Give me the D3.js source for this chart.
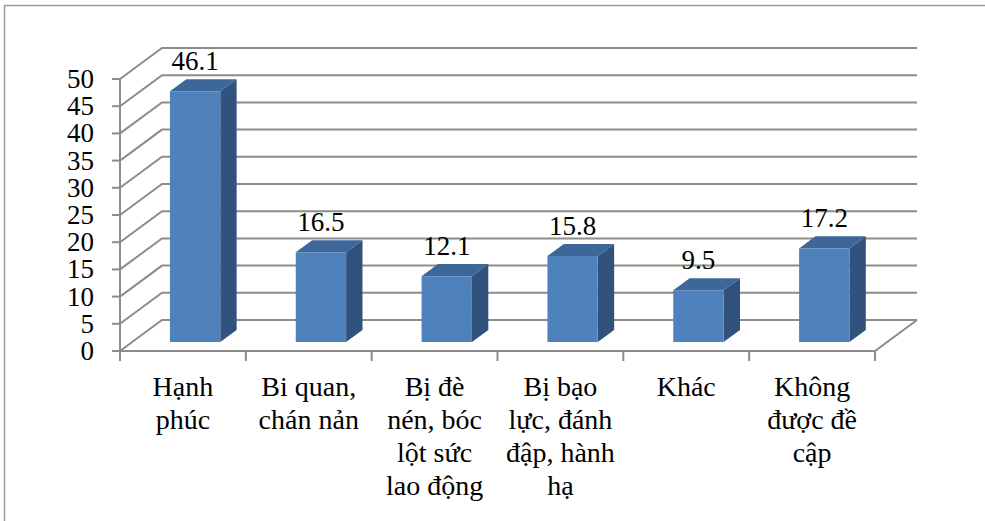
<!DOCTYPE html>
<html>
<head>
<meta charset="utf-8">
<script src="https://cdn.jsdelivr.net/npm/d3@7"></script>
<style>
  html, body { margin: 0; padding: 0; background: #fff; }
  svg { display: block; }
  svg text, svg tspan { font-family: "Liberation Serif", "Times New Roman", serif !important; }
</style>
</head>
<body>
<svg id="chart" width="985" height="521"></svg>
<script>
// Categories (each entry is the wrapped label lines) and the percentages
const categories = [
  ["Hạnh", "phúc"],
  ["Bi quan,", "chán nản"],
  ["Bị đè", "nén, bóc", "lột sức", "lao động"],
  ["Bị bạo", "lực, đánh", "đập, hành", "hạ"],
  ["Khác"],
  ["Không", "được đề", "cập"]
];
const values = [46.1, 16.5, 12.1, 15.8, 9.5, 17.2];
const yTicks = [0, 5, 10, 15, 20, 25, 30, 35, 40, 45, 50];

const svg = d3.select("#chart");
const fontStyle = size =>
  `font-family: "Liberation Serif", "Times New Roman", serif !important; font-size: ${size}px;`;

// Outer frame
svg.append("path")
  .attr("d", "M4.5,521 L4.5,5.5 L985,5.5")
  .attr("fill", "none").attr("stroke", "#9a9a9a").attr("stroke-width", 1.5);

// Front plane of the 3D plot and the depth vector toward the back wall
const left = 120, right = 875;
const depth = { x: 42, y: -31 };

const x = d3.scaleBand()
  .domain(d3.range(categories.length))
  .range([left, right])
  .paddingInner(0.6)
  .paddingOuter(0.3);

const y = d3.scaleLinear().domain([0, 50]).range([351, 79]);

// project a point (px on the front plane, value, depth fraction d)
const P = (px, v, d) => [px + d * depth.x, y(v) + d * depth.y];

const gridColor = "#8c8c8c";
const g = svg.append("g");

// Wall gridlines: diagonal on the side wall, horizontal on the back wall
yTicks.forEach(v => {
  const a = P(left, v, 0), b = P(left, v, 1), c = P(right, v, 1);
  g.append("path")
    .attr("d", `M${a[0]},${a[1]} L${b[0]},${b[1]} L${c[0]},${c[1]}`)
    .attr("fill", "none").attr("stroke", gridColor).attr("stroke-width", 2);
});

// Floor front and right edges
{
  const a = P(left, 0, 0), b = P(right, 0, 0), c = P(right, 0, 1);
  g.append("path")
    .attr("d", `M${a[0]},${a[1]} L${b[0]},${b[1]} L${c[0]},${c[1]}`)
    .attr("fill", "none").attr("stroke", gridColor).attr("stroke-width", 2);
}

// Value axis line, ticks and labels
g.append("line")
  .attr("x1", left).attr("x2", left)
  .attr("y1", y(0)).attr("y2", y(50))
  .attr("stroke", gridColor).attr("stroke-width", 2);

yTicks.forEach(v => {
  g.append("line")
    .attr("x1", left - 8).attr("x2", left)
    .attr("y1", y(v)).attr("y2", y(v))
    .attr("stroke", gridColor).attr("stroke-width", 2);
  svg.append("text")
    .attr("x", 94).attr("y", y(v) + 9)
    .attr("text-anchor", "end")
    .attr("font-family", "Liberation Serif")
    .attr("style", fontStyle(27))
    .text(v);
});

// Category boundary ticks
const bounds = d3.range(categories.length + 1).map(i => left + i * x.step());
bounds.forEach(bx => {
  g.append("line")
    .attr("x1", bx).attr("x2", bx)
    .attr("y1", y(0)).attr("y2", y(0) + 10)
    .attr("stroke", gridColor).attr("stroke-width", 2);
});

// 3D columns
const d0 = 0.29, d1 = 0.68;
const frontColor = "#4f81bd", sideColor = "#30527c", topColor = "#3d6699";

values.forEach((v, i) => {
  const xl = x(i), xr = x(i) + x.bandwidth();
  const fbl = P(xl, 0, d0), fbr = P(xr, 0, d0), ftl = P(xl, v, d0), ftr = P(xr, v, d0);
  const bbr = P(xr, 0, d1), btl = P(xl, v, d1), btr = P(xr, v, d1);
  const bar = svg.append("g");
  // right side
  bar.append("path")
    .attr("d", `M${fbr} L${bbr} L${btr} L${ftr} Z`)
    .attr("fill", sideColor);
  // top
  bar.append("path")
    .attr("d", `M${ftl} L${ftr} L${btr} L${btl} Z`)
    .attr("fill", topColor);
  // front
  bar.append("path")
    .attr("d", `M${fbl} L${fbr} L${ftr} L${ftl} Z`)
    .attr("fill", frontColor);

  // value label above the column
  svg.append("text")
    .attr("x", (ftl[0] + ftr[0]) / 2)
    .attr("y", btl[1] - 9)
    .attr("text-anchor", "middle")
    .attr("font-family", "Liberation Serif")
    .attr("style", fontStyle(27))
    .text(v.toFixed(1));
});

// Category labels, wrapped onto several lines
categories.forEach((lines, i) => {
  const cx = x(i) + x.bandwidth() / 2;
  const t = svg.append("text")
    .attr("text-anchor", "middle")
    .attr("font-family", "Liberation Serif")
    .attr("style", fontStyle(28));
  lines.forEach((ln, j) => {
    t.append("tspan").attr("x", cx).attr("y", 396 + j * 33).text(ln);
  });
});
</script>
</body>
</html>
